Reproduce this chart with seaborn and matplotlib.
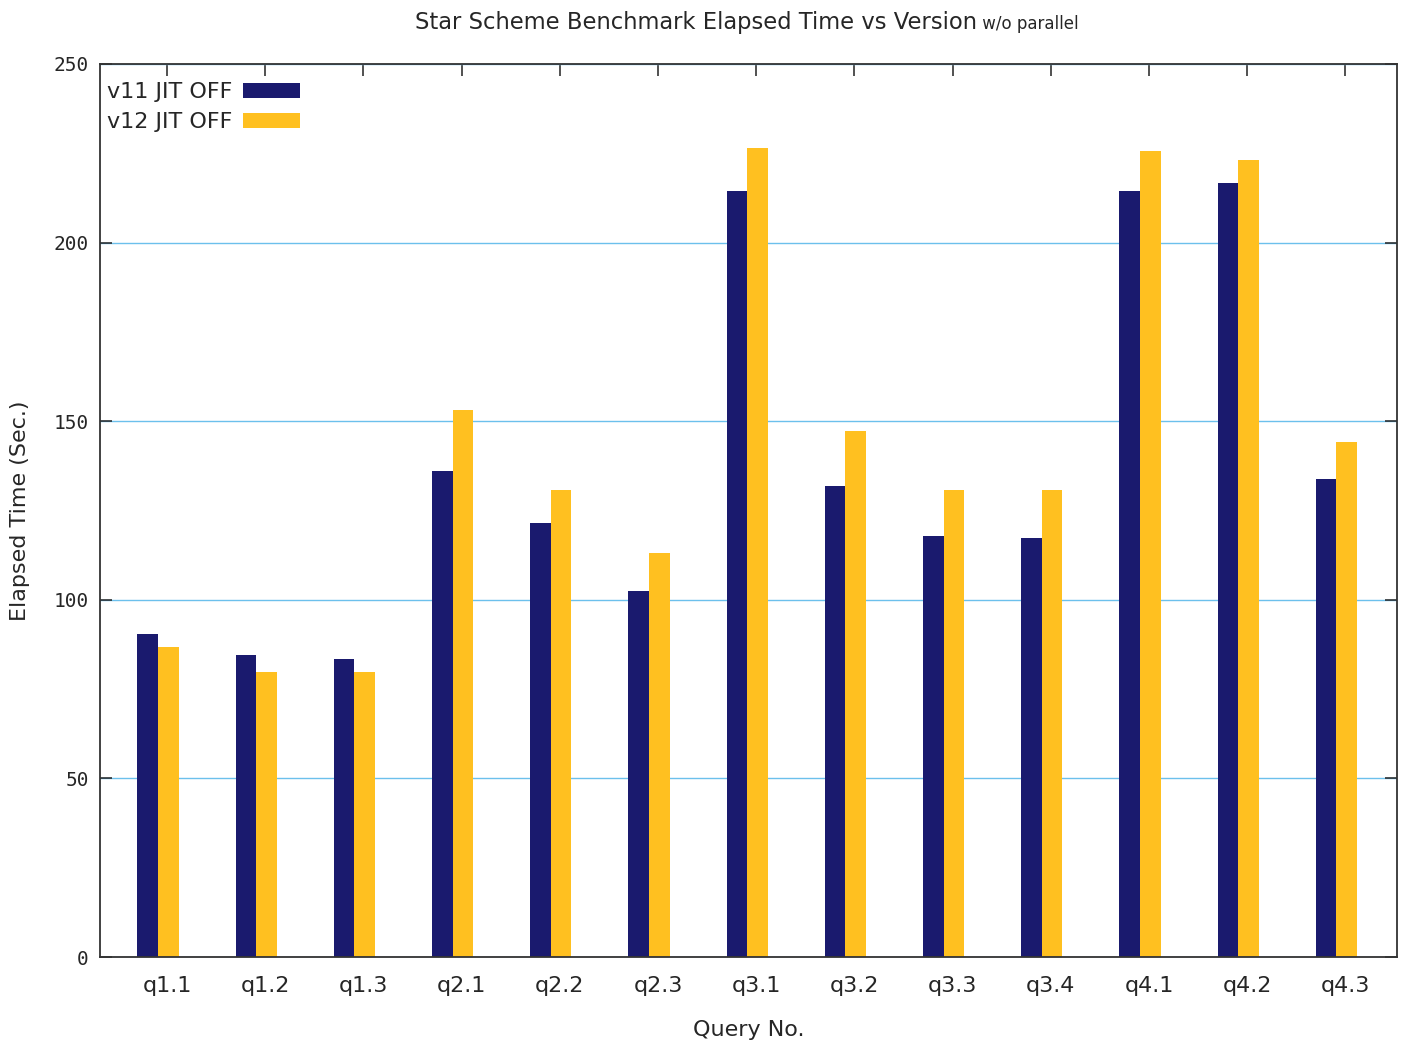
import numpy as np
import pandas as pd
import matplotlib
matplotlib.use("Agg")
import matplotlib.pyplot as plt
import seaborn as sns

queries = ["q1.1", "q1.2", "q1.3", "q2.1", "q2.2", "q2.3", "q3.1",
           "q3.2", "q3.3", "q3.4", "q4.1", "q4.2", "q4.3"]
v11_jit_off = [90.4, 84.5, 83.4, 136.0, 121.5, 102.5, 214.4,
               131.9, 117.9, 117.3, 214.4, 216.7, 133.8]
v12_jit_off = [86.8, 79.8, 79.8, 153.1, 130.7, 113.1, 226.5,
               147.3, 130.7, 130.7, 225.6, 223.1, 144.2]
series_names = ["v11 JIT OFF", "v12 JIT OFF"]
y_ticks = [0, 50, 100, 150, 200, 250]

df = pd.DataFrame({
    "query": queries * 2,
    "elapsed": v11_jit_off + v12_jit_off,
    "version": [series_names[0]] * len(queries) + [series_names[1]] * len(queries),
})

sns.set_theme(style="white")
plt.rcParams["font.family"] = ["DejaVu Sans"]

fig = plt.figure(figsize=(14.05, 10.44), dpi=100)
ax = fig.add_axes([0.0712, 0.0833, 0.9231, 0.8554])

colors = ["#1a1a6e", "#ffc020"]
sns.barplot(data=df, x="query", y="elapsed", hue="version", order=queries,
            hue_order=series_names, palette=colors, width=0.42,
            saturation=1, linewidth=0, errorbar=None, ax=ax)

# axis ranges and ticks
ax.set_ylim(0, 250)
ax.set_xlim(-0.59, 12.617)
ax.set_yticks(y_ticks)
ax.set_yticklabels([str(t) for t in y_ticks], family="DejaVu Sans Mono", fontsize=14)
tick_pos = np.arange(len(queries)) + 0.092
ax.set_xticks(tick_pos)
ax.set_xticklabels(queries, fontsize=16)
ax.tick_params(axis="both", direction="in", length=8.5, width=1.1,
               color="#222222", top=True, right=True, bottom=True, left=True)
ax.tick_params(axis="x", pad=14)
ax.tick_params(axis="y", pad=8)

ax.yaxis.grid(True, color="#6cc0ec", linewidth=1.0)
ax.xaxis.grid(False)
ax.set_axisbelow(True)
for s in ax.spines.values():
    s.set_visible(True)
    s.set_color("#333333")
    s.set_linewidth(1.3)

ax.set_xlabel("Query No.", fontsize=16, labelpad=17)
ax.set_ylabel("Elapsed Time (Sec.)", fontsize=16, labelpad=17)

# title with a smaller suffix
t = fig.text(0.4957, 0.978, "Star Scheme Benchmark Elapsed Time vs Version",
             ha="center", va="center", fontsize=16.3)
ax.annotate(" w/o parallel", xy=(1, 0.05), xycoords=t, ha="left", va="bottom",
            fontsize=12)

leg = ax.legend(loc="upper left", bbox_to_anchor=(0.0, 0.987), frameon=False,
                markerfirst=False, fontsize=16, handlelength=2.57,
                handleheight=0.68, labelspacing=0.45, handletextpad=0.5,
                borderaxespad=0.0, borderpad=0.3, title=None)

fig.savefig("out.png", dpi=100, facecolor="white")
